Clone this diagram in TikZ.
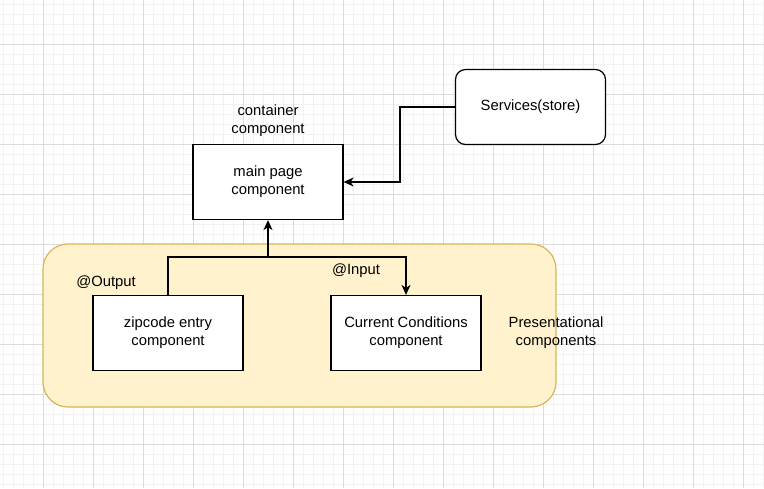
\documentclass[tikz,border=0pt]{standalone}
\usepackage{fontspec}
\setmainfont{Liberation Sans}
\usetikzlibrary{arrows.meta}

\tikzset{
  box/.style={draw, line width=1.2pt, fill=white, align=center, minimum width=150pt, minimum height=75pt},
  conn/.style={line width=1.2pt, -{Stealth[length=10pt, width=9pt, inset=3pt]}},
  lbl/.style={align=center, inner sep=0pt}
}

\begin{document}
\begin{tikzpicture}[x=1pt, y=-1pt, font=\fontsize{14.8}{18}\selectfont]
\useasboundingbox (0,0) rectangle (764,488);
\fill[white] (0,0) rectangle (764,488);
\foreach \x in {3,13,...,763} \draw[line width=0.8pt, black!5] (\x,0) -- (\x,488);
\foreach \y in {4,14,...,488} \draw[line width=0.8pt, black!5] (0,\y) -- (764,\y);
\foreach \x in {43,93,...,763} \draw[line width=0.8pt, black!14] (\x,0) -- (\x,488);
\foreach \y in {44,94,...,488} \draw[line width=0.8pt, black!14] (0,\y) -- (764,\y);

\draw[line width=1.2pt, draw={rgb,255:red,214;green,182;blue,86}, fill={rgb,255:red,255;green,242;blue,204}, rounded corners=25pt] (43,244) rectangle (556,407);

\node[box] (main) at (268,182) {main page\\component};
\node[box, rounded corners=10pt] (services) at (530.5,107) {Services(store)};
\node[box] (zip) at (168,333) {zipcode entry\\component};
\node[box] (cur) at (406,333) {Current Conditions\\component};

\node[lbl] (container) at (268,121) {container\\component};
\node[lbl] (present) at (556,333) {Presentational\\components};
\node[lbl] (output) at (106,283) {@Output};
\node[lbl] (input) at (356,271) {@Input};

\coordinate (split) at (main.south |- 0,257);
\draw[conn] (services.west) -- ++(-55,0) |- (main.east);
\draw[conn] (zip.north) |- (split) -| (cur.north);
\draw[conn] (split) -- (main.south);
\end{tikzpicture}
\end{document}
